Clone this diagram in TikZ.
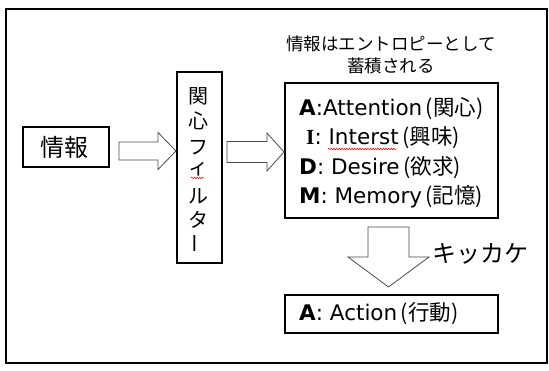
\documentclass[tikz,border=0pt]{standalone}
\usepackage{fontspec}
\setmainfont{Noto Sans CJK JP}
\newfontfamily\latf{DejaVu Sans}
\newfontfamily\serf{Liberation Serif}
\usetikzlibrary{decorations.pathmorphing}
\tikzset{
  box/.style={draw=black,line width=1.1pt,inner sep=0pt},
  barrow/.style={draw=black!70,line width=0.8pt,fill=white,line join=miter},
  squig/.style={draw=red,line width=0.6pt,decorate,decoration={snake,amplitude=0.7pt,segment length=2.6pt}},
  txt/.style={inner sep=0pt,font=\fontsize{21.5}{24}\selectfont},
  fch/.style={inner sep=0pt,font=\fontsize{20}{22}\selectfont}
}
\begin{document}
\begin{tikzpicture}[x=1pt,y=-1pt]
\useasboundingbox (0,0) rectangle (549,371);
\draw[line width=2pt] (6,9) rectangle (547,363);
% boxes
\node[box,minimum width=86pt,minimum height=40pt] (info) at (66,147) {};
\node[box,minimum width=45pt,minimum height=191pt] (filter) at (199.5,167.5) {};
\node[box,minimum width=213pt,minimum height=135pt] (store) at (391.5,150.5) {};
\node[box,minimum width=213pt,minimum height=38pt] (action) at (391.5,314) {};
% texts
\node[inner sep=0pt,font=\fontsize{24}{26}\selectfont] (infot) at (64,147) {情報};
\node[inner sep=0pt,font=\fontsize{17.5}{22}\selectfont,align=center] (title) at (391,55) {情報はエントロピーとして\\蓄積される};
\node[fch] (f1) at (198,96.5) {関};
\node[fch] (f2) at (198,121) {心};
\node[fch] (f3) at (198,148) {フ};
\node[fch] (f4) at (198,169) {ィ};
\node[fch] (f5) at (198,196) {ル};
\node[fch] (f6) at (198,220) {タ};
\node[fch] (f7) at (198,244) {\rotatebox{90}{ー}};
\node[txt,anchor=west] (la) at (299,109) {{\latf\textbf{A}:Attention}\,(関心)};
\node[txt,anchor=west] (li) at (306,138) {{\serf\textbf{I}}{\latf: Interst}\,(興味)};
\node[txt,anchor=west] (ld) at (299,168) {{\latf\textbf{D}: Desire}\,(欲求)};
\node[txt,anchor=west] (lm) at (299,197) {{\latf\textbf{M}: Memory}\,(記憶)};
\node[txt,anchor=west] (lact) at (299,314) {{\latf\textbf{A}: Action}\,(行動)};
\node[inner sep=0pt,anchor=west,font=\fontsize{24}{26}\selectfont] (kk) at (432,254) {キッカケ};
% spell-check squiggles
\draw[squig] (328,149) -- (396,149);
\draw[squig] (191,178) -- (204,178);
% block arrows
\draw[barrow] (119,142) -- (158,142) -- (158,132.5) -- (176,151) -- (158,169.5) -- (158,160) -- (119,160) -- cycle;
\draw[barrow] (227,141.5) -- (267,141.5) -- (267,133) -- (284,152) -- (267,171) -- (267,162.5) -- (227,162.5) -- cycle;
\draw[barrow] (368,227) -- (409,227) -- (409,257) -- (429,257) -- (388.5,287) -- (348,257) -- (368,257) -- cycle;
\end{tikzpicture}
\end{document}
